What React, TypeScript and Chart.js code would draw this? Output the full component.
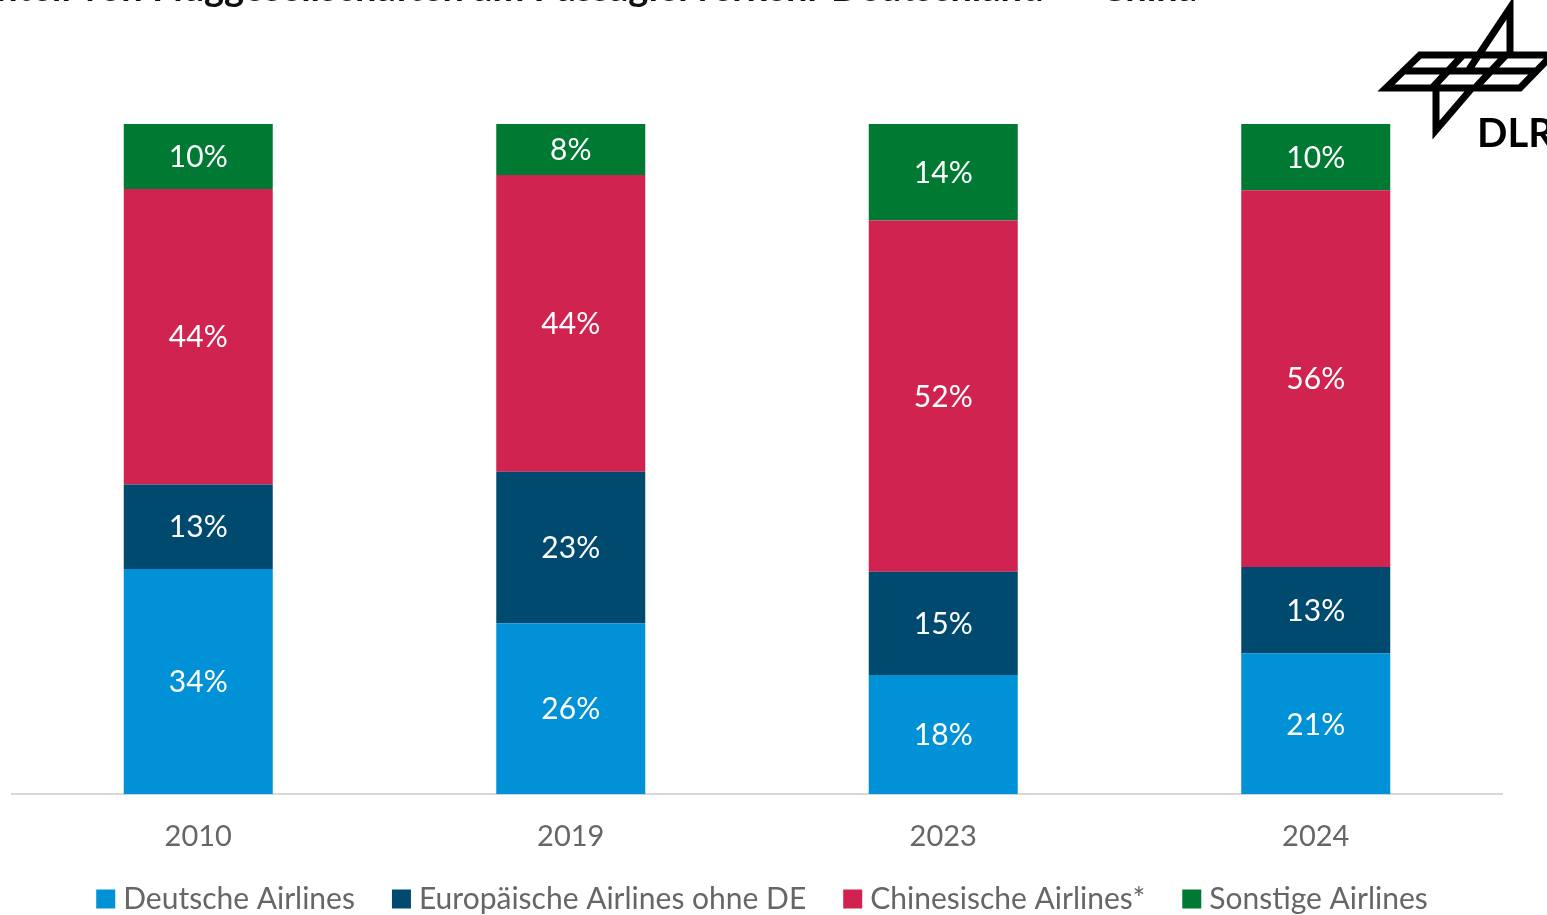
import React, { useEffect, useRef } from "react";
import { Chart, registerables } from "chart.js";

Chart.register(...registerables);

const years = ["2010", "2019", "2023", "2024"];
const seriesNames = ["Deutsche Airlines", "Europäische Airlines ohne DE", "Chinesische Airlines*", "Sonstige Airlines"];
const deutsche = [33.6, 25.5, 17.8, 21.0];
const europaeisch = [12.6, 22.6, 15.4, 12.9];
const chinesisch = [44.1, 44.3, 52.4, 56.2];
const sonstige = [9.7, 7.6, 14.4, 9.9];
const colors = ["#0091d7", "#004a70", "#d12350", "#007a33"];
const titleText = "Anteil von Fluggesellschaften am Passagierverkehr Deutschland ↔ China";

const FONT = "Lato, 'Noto Sans', sans-serif";

const labelPlugin = {
  id: "segLabels",
  afterDatasetsDraw(chart: any) {
    const ctx = chart.ctx;
    ctx.save();
    ctx.fillStyle = "#ffffff";
    ctx.font = `30px ${FONT}`;
    ctx.textAlign = "center";
    ctx.textBaseline = "middle";
    chart.data.datasets.forEach((ds: any, i: number) => {
      const meta = chart.getDatasetMeta(i);
      meta.data.forEach((bar: any, j: number) => {
        const p = bar.getProps(["x", "y", "base"], true);
        const v = ds.data[j];
        ctx.fillText(`${Math.round(v)}%`, p.x, (p.y + p.base) / 2 + 1);
      });
    });
    ctx.restore();
  },
};

const legendPlugin = {
  id: "customLegend",
  afterDraw(chart: any) {
    const ctx = chart.ctx;
    ctx.save();
    ctx.font = `30px ${FONT}`;
    ctx.textBaseline = "middle";
    ctx.textAlign = "left";
    const box = 19;
    const gapText = 8;
    const gapItem = 37;
    const items = chart.data.datasets.map((ds: any) => ({
      label: ds.label,
      color: ds.backgroundColor,
      w: ctx.measureText(ds.label).width,
    }));
    const total = items.reduce((s: number, it: any) => s + box + gapText + it.w, 0) + gapItem * (items.length - 1);
    let x = 762 - total / 2;
    const y = 899;
    items.forEach((it: any) => {
      ctx.fillStyle = it.color;
      ctx.fillRect(x, y - box / 2, box, box);
      ctx.fillStyle = "#666666";
      ctx.fillText(it.label, x + box + gapText, y);
      x += box + gapText + it.w + gapItem;
    });
    ctx.restore();
  },
};

const decorPlugin = {
  id: "decor",
  afterDraw(chart: any) {
    const ctx = chart.ctx;
    ctx.save();
    // cut-off title
    ctx.fillStyle = "#111";
    ctx.font = `bold 38px ${FONT}`;
    ctx.textAlign = "right";
    ctx.textBaseline = "alphabetic";
    ctx.fillText(titleText, 1197, 1);
    // DLR logo
    ctx.strokeStyle = "#000";
    ctx.lineWidth = 7;
    ctx.lineJoin = "miter";
    ctx.beginPath();
    ctx.moveTo(1420, 55);
    ctx.lineTo(1552, 55);
    ctx.lineTo(1520, 88);
    ctx.lineTo(1386, 88);
    ctx.closePath();
    ctx.moveTo(1403, 71);
    ctx.lineTo(1536, 71);
    ctx.moveTo(1463, 55);
    ctx.lineTo(1432, 88);
    ctx.moveTo(1506, 55);
    ctx.lineTo(1475, 88);
    ctx.moveTo(1510, 55);
    ctx.lineTo(1510, 8);
    ctx.lineTo(1468, 71);
    ctx.moveTo(1472, 88);
    ctx.lineTo(1436, 130);
    ctx.lineTo(1436, 88);
    ctx.stroke();
    ctx.fillStyle = "#000";
    ctx.font = `bold 40px ${FONT}`;
    ctx.textAlign = "left";
    ctx.fillText("DLR", 1477, 147);
    ctx.restore();
  },
};

export default function App() {
  const ref = useRef<HTMLCanvasElement>(null);
  useEffect(() => {
    document.body.style.margin = "0";
    const dataArrays = [deutsche, europaeisch, chinesisch, sonstige];
    const chart = new Chart(ref.current!, {
      type: "bar",
      data: {
        labels: years,
        datasets: seriesNames.map((name, i) => ({
          label: name,
          data: dataArrays[i],
          backgroundColor: colors[i],
          borderWidth: 0,
          barPercentage: 0.4,
          categoryPercentage: 1,
        })),
      },
      options: {
        animation: false,
        responsive: false,
        maintainAspectRatio: false,
        layout: { padding: { left: 12, right: 45, top: 124, bottom: 36 } },
        plugins: {
          tooltip: { enabled: false },
          title: { display: false },
          legend: { display: false },
        },
        scales: {
          x: {
            stacked: true,
            grid: { display: false, drawTicks: false },
            border: { display: true, color: "#d9d9d9", width: 2 },
            ticks: { color: "#666666", font: { family: FONT, size: 29 }, padding: 25 },
          },
          y: {
            stacked: true,
            display: false,
            min: 0,
            max: 100,
          },
        },
      },
      plugins: [labelPlugin, legendPlugin, decorPlugin],
    });
    return () => chart.destroy();
  }, []);
  return <canvas ref={ref} width={1547} height={915} style={{ display: "block" }} />;
}
